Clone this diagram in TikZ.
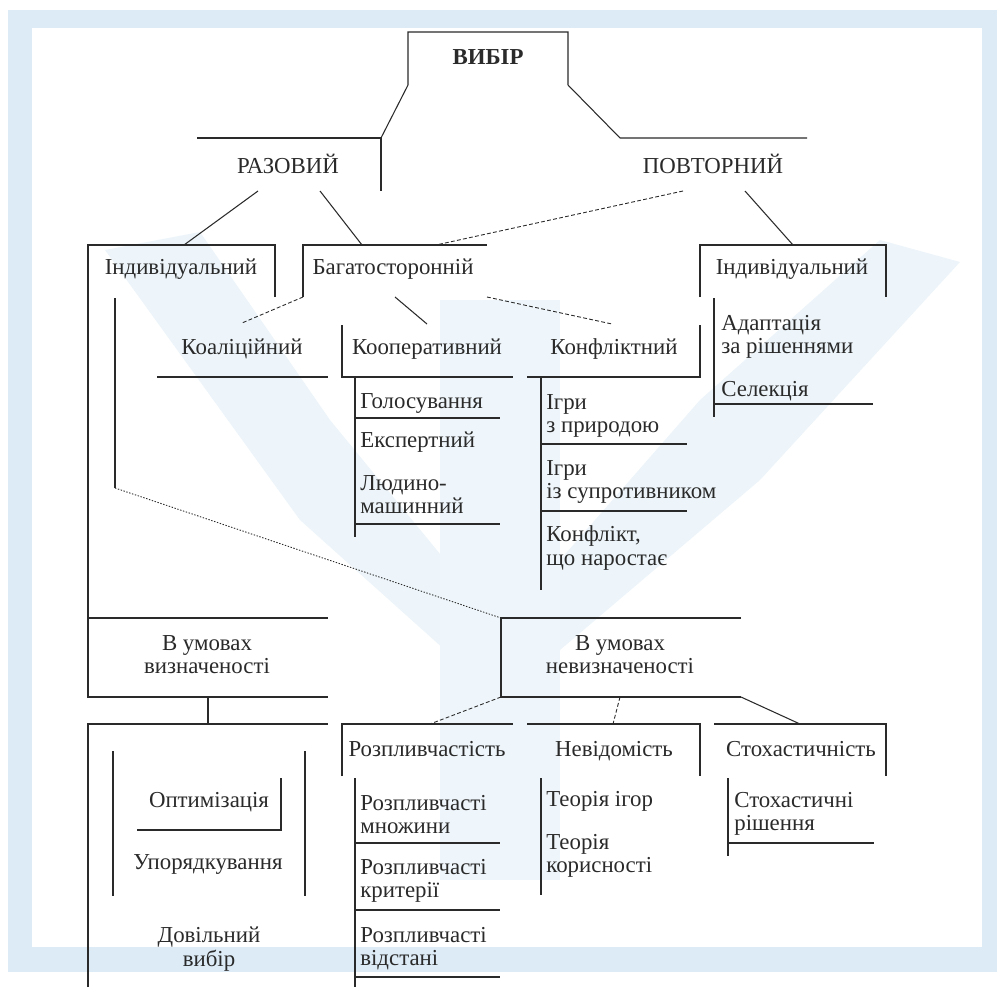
\documentclass[tikz,border=0pt]{standalone}
\usepackage{fontspec}
\setmainfont{Liberation Serif}
\usepackage{xcolor}
\usepackage{tikz}
\usetikzlibrary{calc}
\definecolor{wmblue}{HTML}{DCEBF6}
\definecolor{ink}{HTML}{2A2A2A}
\tikzset{
  ln/.style={draw=ink, line width=0.6pt},
  spine/.style={draw=ink, line width=1.3pt},
  dashln/.style={draw=ink, line width=0.5pt, dash pattern=on 2.2pt off 1.3pt},
  dotln/.style={draw=ink, line width=0.5pt, dash pattern=on 0.8pt off 0.9pt},
  lbl/.style={text=ink, font=\fontsize{13}{13.5}\selectfont, inner sep=0pt, align=center,
    execute at begin node=\strut, execute at end node=\strut},
  item/.style={lbl, anchor=west, align=left},
}

\begin{document}
\begin{tikzpicture}[x=0.02cm, y=-0.02cm]
    \useasboundingbox (0,0) rectangle (997,987);
    % frame and watermark
    \fill[wmblue] (8,10) rectangle (997,972);
    \fill[white] (32,28) rectangle (982,947);
    \fill[wmblue!50] (105,250) -- (200,232) -- (330,420) -- (445,560) -- (445,650) -- (300,520) -- cycle;
    \fill[wmblue!50] (960,262) -- (880,240) -- (700,400) -- (560,560) -- (560,650) -- (760,480) -- cycle;
    \fill[wmblue!45] (440,300) rectangle (560,880);

    {
    % Drawing box ВИБІР
    \node[lbl, font=\fontsize{13}{13.5}\selectfont\bfseries] (vybir) at (488,60) {ВИБІР};
    \draw[ln] (197,138) -- (381,138) -- (381,191);%
    \draw[ln] (381,138) -- (408,85) -- (408,32) -- (568,32) -- (568,85) -- (620,138) -- (807,138);%

    % Drawing labels РАЗОВИЙ, ПОВТОРНИЙ
    \node[lbl] (razovyi) at (288,167) {РАЗОВИЙ};
    \node[lbl] (povtornyi) at (713,167) {ПОВТОРНИЙ};
    \coordinate (raz-a) at (258,191);
    \coordinate (raz-b) at (320,191);
    \coordinate (pov-a) at (683,191);
    \coordinate (pov-b) at (745,191);

    % Drawing box Індивідуальний (left)
    \draw[ln] (275,297) -- (275,245) -- (88,245) -- (88,697) -- (328,697);%
    \draw[ln] (88,618) -- (328,618);%
    \node[lbl] (indiv-l) at (181,270) {Індивідуальний};
    \coordinate (indl-top) at (184,245);
    \coordinate (indl-in) at (115,298);
    \coordinate (indl-end) at (115,488);
    \draw[ln] (indl-in) -- (indl-end);%

    % Drawing box Багатосторонній
    \draw[ln] (303,297) -- (303,245) -- (487,245);%
    \node[lbl] (bagato) at (393,270) {Багатосторонній};
    \coordinate (bag-top) at (362,245);
    \coordinate (bag-top2) at (436,245);
    \coordinate (bag-a) at (303,297);
    \coordinate (bag-b) at (395,297);
    \coordinate (bag-c) at (487,297);

    % Drawing box Індивідуальний (right)
    \draw[ln] (700,297) -- (700,245) -- (886,245) -- (886,297);%
    \node[lbl] (indiv-r) at (792,270) {Індивідуальний};
    \coordinate (indr-top) at (793,245);

    % Drawing connectors of first level
    \draw[ln] (raz-a) -- (indl-top);%
    \draw[ln] (raz-b) -- (bag-top);%
    \draw[dashln] (pov-a) -- (bag-top2);%
    \draw[ln] (pov-b) -- (indr-top);%

    % Drawing Коаліційний, Кооперативний, Конфліктний
    \node[lbl] (koal) at (242,350) {Коаліційний};
    \draw[ln] (157,377) -- (328,377);%
    \node[lbl] (koop) at (427,350) {Кооперативний};
    \draw[ln] (342,325) -- (342,377) -- (513,377);%
    \node[lbl] (konfl) at (614,350) {Конфліктний};
    \draw[ln] (527,377) -- (700,377) -- (700,325);%
    \coordinate (koal-top) at (242,323);
    \coordinate (koop-top) at (427,324);
    \coordinate (konfl-top) at (612,324);
    \draw[dashln] (bag-a) -- (koal-top);%
    \draw[ln] (bag-b) -- (koop-top);%
    \draw[dashln] (bag-c) -- (konfl-top);%

    % Drawing list of Кооперативний
    \draw[spine] (355,377) -- (355,537);%
    \node[item] (golos) at (360,404) {Голосування};
    \draw[ln] (355,418) -- (500,418);%
    \node[item] (expert) at (360,443) {Експертний};
    \node[item] (ludyno) at (360,498) {Людино-\\машинний};
    \draw[ln] (355,524) -- (500,524);%

    % Drawing list of Конфліктний
    \draw[ln] (541,377) -- (541,590);%
    \node[item] (pryroda) at (546,417) {Ігри\\з природою};
    \draw[ln] (541,444) -- (687,444);%
    \node[item] (suprot) at (546,483) {Ігри\\із супротивником};
    \draw[ln] (541,511) -- (687,511);%
    \node[item] (narost) at (546,549) {Конфлікт,\\що наростає};

    % Drawing list of Індивідуальний (right)
    \draw[spine] (714,298) -- (714,417);%
    \node[item] (adapt) at (721,338) {Адаптація\\за рішеннями};
    \node[item] (selek) at (721,392) {Селекція};
    \draw[ln] (714,404) -- (873,404);%

    % Drawing В умовах визначеності
    \node[lbl] (vyznach) at (207,658) {В умовах\\визначеності};
    \coordinate (vyz-bot) at (208,697);
    \coordinate (vyz-sub) at (208,724);
    \draw[ln] (vyz-bot) -- (vyz-sub);%
    \draw[ln] (88,987) -- (88,724) -- (328,724);%

    % Drawing В умовах невизначеності
    \draw[ln] (741,618) -- (501,618) -- (501,697) -- (741,697);%
    \node[lbl] (nevyznach) at (620,658) {В умовах\\невизначеності};
    \coordinate (nev-top) at (501,618);
    \draw[dotln] (indl-end) -- (nev-top);%
    \coordinate (nev-a) at (501,697);
    \coordinate (nev-b) at (620,697);
    \coordinate (nev-c) at (741,697);

    % Drawing Розпливчастість, Невідомість, Стохастичність
    \node[lbl] (rozpl) at (427,752) {Розпливчастість};
    \draw[ln] (342,776) -- (342,724) -- (513,724);%
    \node[lbl] (nevid) at (614,752) {Невідомість};
    \draw[ln] (527,724) -- (700,724) -- (700,776);%
    \node[lbl] (stoh) at (801,752) {Стохастичність};
    \draw[ln] (714,724) -- (886,724) -- (886,776);%
    \coordinate (rozpl-top) at (430,724);
    \coordinate (nevid-top) at (613,724);
    \coordinate (stoh-top) at (800,724);
    \draw[dashln] (nev-a) -- (rozpl-top);%
    \draw[dashln] (nev-b) -- (nevid-top);%
    \draw[ln] (nev-c) -- (stoh-top);%

    % Drawing list of Розпливчастість
    \draw[spine] (355,778) -- (355,987);%
    \node[item] (mnozh) at (360,818) {Розпливчасті\\множини};
    \draw[ln] (355,843) -- (500,843);%
    \node[item] (kryt) at (360,882) {Розпливчасті\\критерії};
    \draw[ln] (355,910) -- (500,910);%
    \node[item] (vidst) at (360,950) {Розпливчасті\\відстані};
    \draw[ln] (355,977) -- (500,977);%

    % Drawing list of Невідомість
    \draw[ln] (541,778) -- (541,895);%
    \node[item] (igor) at (546,802) {Теорія ігор};
    \node[item] (koryst) at (546,857) {Теорія\\корисності};

    % Drawing list of Стохастичність
    \draw[ln] (728,778) -- (728,856);%
    \node[item] (stohr) at (734,815) {Стохастичні\\рішення};
    \draw[ln] (728,843) -- (874,843);%

    % Drawing list of В умовах визначеності
    \draw[ln] (113,751) -- (113,896);%
    \draw[ln] (305,751) -- (305,896);%
    \node[lbl] (optym) at (209,803) {Оптимізація};
    \draw[ln] (137,830) -- (281,830) -- (281,778);%
    \node[lbl] (uporyad) at (208,865) {Упорядкування};
    \node[lbl] (dovil) at (209,950) {Довільний\\вибір};
    }
\end{tikzpicture}
\end{document}
